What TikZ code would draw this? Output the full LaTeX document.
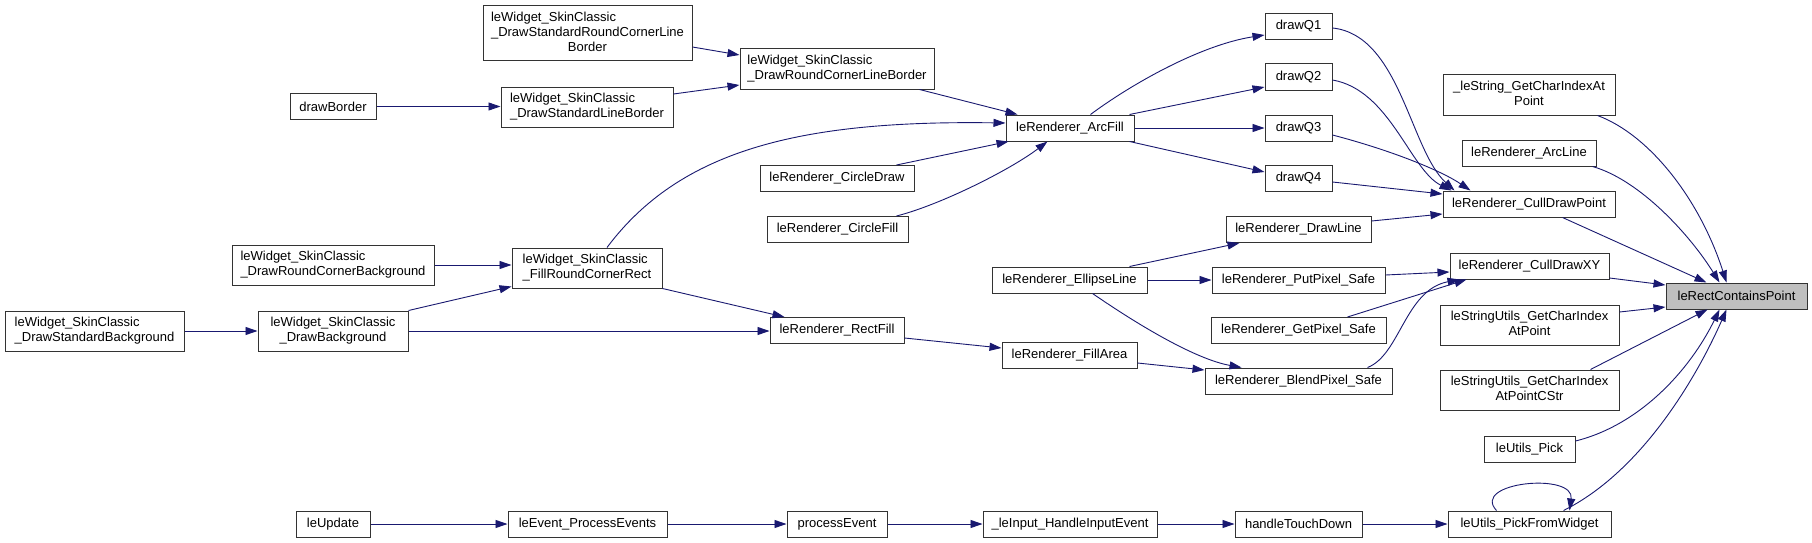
\documentclass[tikz,border=0pt]{standalone}
\usepackage{fontspec}
\setmainfont{Liberation Sans}
\usetikzlibrary{arrows.meta}
\definecolor{edgeblue}{HTML}{191970}
\definecolor{hlgray}{HTML}{BFBFBF}
\newcommand\twolines[2]{\begin{tabular}{@{}l@{}}#1\\\multicolumn{1}{@{}c@{}}{#2}\end{tabular}}
\newcommand\threelines[3]{\begin{tabular}{@{}l@{}}#1\\#2\\\multicolumn{1}{@{}c@{}}{#3}\end{tabular}}
\begin{document}
\begin{tikzpicture}[x=1pt,y=-1pt,
  fn/.style={draw=black!80,line width=1pt,fill=white,inner sep=0pt,minimum height=26pt,
    font=\fontsize{13}{15}\selectfont,text=black},
  fn2/.style={fn,minimum height=40pt},
  fn3/.style={fn,minimum height=55pt},
  call/.style={draw=edgeblue,line width=0.9pt,-{Triangle[length=12pt,width=8pt]},fill=none}]
\useasboundingbox[fill=white] (0,0) rectangle (1812,543);
% column 0
\node[fn2,minimum width=179pt] (dsb) at (94.5,331) {\twolines{leWidget\_SkinClassic}{\_DrawStandardBackground}};
% column 1
\node[fn,minimum width=86pt] (dborder) at (333,106.5) {drawBorder};
\node[fn2,minimum width=202pt] (drcb) at (333,265) {\twolines{leWidget\_SkinClassic}{\_DrawRoundCornerBackground}};
\node[fn2,minimum width=150pt] (dbg) at (333,331) {\twolines{leWidget\_SkinClassic}{\_DrawBackground}};
\node[fn,minimum width=74pt] (upd) at (333,524) {leUpdate};
% column 2
\node[fn3,minimum width=209pt] (srclb) at (587.5,33.5) {\threelines{leWidget\_SkinClassic}{\_DrawStandardRoundCornerLine}{Border}};
\node[fn2,minimum width=172pt] (dslb) at (587,107) {\twolines{leWidget\_SkinClassic}{\_DrawStandardLineBorder}};
\node[fn2,minimum width=150pt] (frcr) at (587,268) {\twolines{leWidget\_SkinClassic}{\_FillRoundCornerRect}};
\node[fn,minimum width=159pt] (evp) at (587.5,524) {leEvent\_ProcessEvents};
% column 3
\node[fn2,minimum width=194pt] (rclb) at (837,69) {\twolines{leWidget\_SkinClassic}{\_DrawRoundCornerLineBorder}};
\node[fn,minimum width=154pt] (cdraw) at (837,178.5) {leRenderer\_CircleDraw};
\node[fn,minimum width=141pt] (cfill) at (837.5,229.5) {leRenderer\_CircleFill};
\node[fn,minimum width=134pt] (rfill) at (837,330.5) {leRenderer\_RectFill};
\node[fn,minimum width=100pt] (pev) at (837,524) {processEvent};
% column 4
\node[fn,minimum width=128pt] (arcf) at (1070,128) {leRenderer\_ArcFill};
\node[fn,minimum width=155pt] (ell) at (1069.5,280) {leRenderer\_EllipseLine};
\node[fn,minimum width=135pt] (farea) at (1069.5,355.5) {leRenderer\_FillArea};
\node[fn,minimum width=174pt] (hie) at (1070,524) {\_leInput\_HandleInputEvent};
% column 5
\node[fn,minimum width=67pt] (q1) at (1298.5,26.5) {drawQ1};
\node[fn,minimum width=67pt] (q2) at (1298.5,77) {drawQ2};
\node[fn,minimum width=67pt] (q3) at (1298.5,128) {drawQ3};
\node[fn,minimum width=67pt] (q4) at (1298.5,178.5) {drawQ4};
\node[fn,minimum width=145pt] (dline) at (1298.5,229.5) {leRenderer\_DrawLine};
\node[fn,minimum width=173pt] (ppix) at (1298.5,280) {leRenderer\_PutPixel\_Safe};
\node[fn,minimum width=175pt] (gpix) at (1298.5,330.5) {leRenderer\_GetPixel\_Safe};
\node[fn,minimum width=187pt] (bpix) at (1298.5,381) {leRenderer\_BlendPixel\_Safe};
\node[fn,minimum width=127pt] (htd) at (1298.5,524) {handleTouchDown};
% column 6
\node[fn2,minimum width=172pt] (lsg) at (1529,95) {\twolines{\_leString\_GetCharIndexAt}{Point}};
\node[fn,minimum width=134pt] (arcl) at (1529,153) {leRenderer\_ArcLine};
\node[fn,minimum width=172pt] (cdp) at (1529,204) {leRenderer\_CullDrawPoint};
\node[fn,minimum width=159pt] (cdxy) at (1529.5,266) {leRenderer\_CullDrawXY};
\node[fn2,minimum width=179pt] (gcip) at (1529.5,325) {\twolines{leStringUtils\_GetCharIndex}{AtPoint}};
\node[fn2,minimum width=179pt] (cstr) at (1529.5,390) {\twolines{leStringUtils\_GetCharIndex}{AtPointCStr}};
\node[fn,minimum width=91pt] (pick) at (1529.5,449.5) {leUtils\_Pick};
\node[fn,minimum width=163pt] (pfw) at (1529.5,524) {leUtils\_PickFromWidget};
% column 7
\node[fn,fill=hlgray,minimum width=141pt] (rcp) at (1736.5,296) {leRectContainsPoint};

% edges
\draw[call] ([yshift=-13.5pt]srclb.east) -- ([yshift=14pt]rclb.west);
\draw[call] (dborder.east) -- (dborder.east -| dslb.west);
\draw[call] ([yshift=13pt]dslb.east) -- ([yshift=-16pt]rclb.west);
\draw[call] ([xshift=-15pt]rclb.south east) -- ([xshift=12pt]arcf.north west);
\draw[call] ([xshift=20pt]frcr.north) .. controls (680,150) and (800,120) .. ([yshift=5pt]arcf.west);
\draw[call] ([xshift=-18pt]cdraw.north east) -- ([xshift=3pt]arcf.south west);
\draw[call] ([xshift=-12pt]cfill.north east) .. controls (940,205) and (1010,170) .. ([xshift=42pt]arcf.south west);
\draw[call] ([xshift=85pt]arcf.north west) .. controls (1130,85) and (1200,45) .. ([yshift=-8.5pt]q1.west);
\draw[call] ([xshift=-5pt]arcf.north east) -- ([yshift=-10pt]q2.west);
\draw[call] (arcf.east) -- (q3.west);
\draw[call] ([xshift=-5pt]arcf.south east) -- ([yshift=6.5pt]q4.west);
\draw[call] ([yshift=-1.5pt]q1.east) .. controls (1400,35) and (1410,150) .. ([xshift=12pt]cdp.north west);
\draw[call] ([yshift=-3pt]q2.east) .. controls (1390,90) and (1410,170) .. ([xshift=9pt]cdp.north west);
\draw[call] ([yshift=-7pt]q3.east) .. controls (1390,150) and (1440,170) .. ([xshift=28pt]cdp.north west);
\draw[call] ([yshift=-3.5pt]q4.east) -- ([yshift=10pt]cdp.west);
\draw[call] ([yshift=8.5pt]dline.east) -- ([yshift=-10pt]cdp.west);
\draw[call] ([xshift=-18pt]ell.north east) -- ([xshift=14pt]dline.south west);
\draw[call] (ell.east) -- (ppix.west);
\draw[call] ([xshift=101pt]ell.south west) .. controls (1150,333) and (1200,360) .. ([xshift=37pt]bpix.north west);
\draw[call] ([yshift=5pt]ppix.east) -- ([yshift=-6pt]cdxy.west);
\draw[call] ([xshift=-39pt]gpix.north east) -- ([xshift=17pt]cdxy.south west);
\draw[call] ([xshift=-25pt]bpix.north east) .. controls (1400,355) and (1405,290) .. ([xshift=10pt]cdxy.south west);
\draw[call] ([xshift=-53pt]cdp.south east) -- ([xshift=41pt]rcp.north west);
\draw[call] ([xshift=-18pt]lsg.south east) .. controls (1650,135) and (1700,200) .. ([xshift=61pt]rcp.north west);
\draw[call] ([xshift=-4pt]arcl.south east) .. controls (1640,180) and (1690,235) .. ([xshift=54pt]rcp.north west);
\draw[call] ([yshift=-12pt]cdxy.east) -- ([yshift=11pt]rcp.west);
\draw[call] ([yshift=13pt]gcip.east) -- ([yshift=-11pt]rcp.west);
\draw[call] ([xshift=-29pt]cstr.north east) -- ([xshift=42pt]rcp.south west);
\draw[call] ([yshift=8.5pt]pick.east) .. controls (1640,425) and (1690,370) .. ([xshift=54pt]rcp.south west);
\draw[call] ([xshift=-48pt]pfw.north east) .. controls (1645,470) and (1700,370) .. ([xshift=61pt]rcp.south west);
\draw[call] ([xshift=49pt]pfw.north west) .. controls (1470,482) and (1575,472) .. ([xshift=122pt]pfw.north west);
\draw[call] (htd.east) -- (pfw.west);
\draw[call] (hie.east) -- (htd.west);
\draw[call] (pev.east) -- (hie.west);
\draw[call] (evp.east) -- (pev.west);
\draw[call] (upd.east) -- (evp.west);
\draw[call] (drcb.east) -- (drcb.east -| frcr.west);
\draw[call] (dbg.north east) -- ([yshift=2pt]frcr.south west);
\draw[call] (dsb.east) -- (dbg.west);
\draw[call] (dbg.east) -- (dbg.east -| rfill.west);
\draw[call] (frcr.south east) -- ([xshift=15pt]rfill.north west);
\draw[call] ([yshift=-7.5pt]rfill.east) -- ([yshift=7.5pt]farea.west);
\draw[call] ([yshift=-7.5pt]farea.east) -- ([yshift=11pt]bpix.west);
\end{tikzpicture}
\end{document}
